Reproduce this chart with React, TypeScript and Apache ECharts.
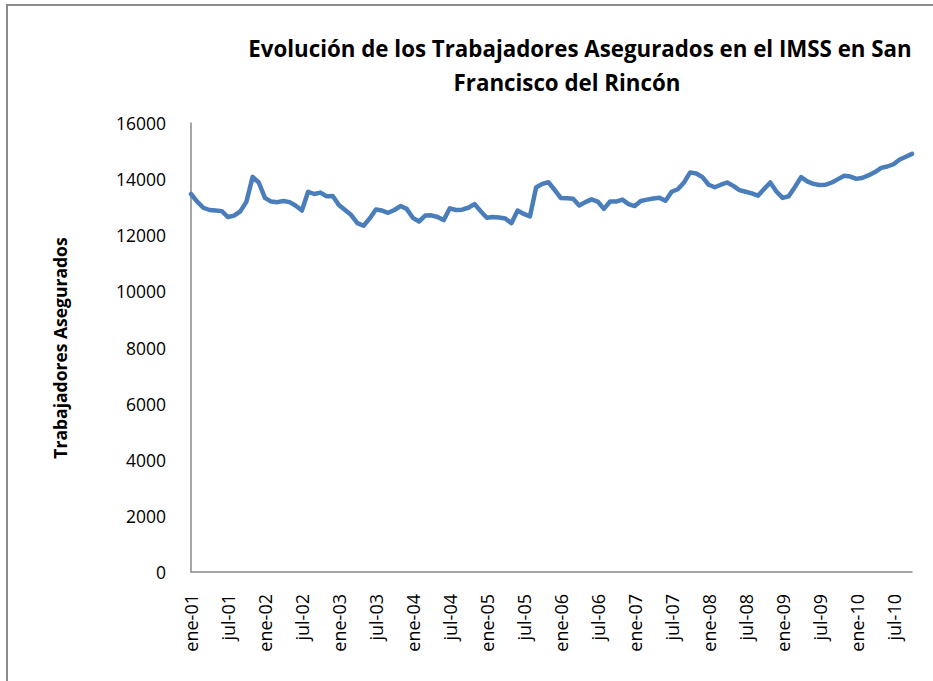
import React, { useEffect, useRef } from "react";
import * as echarts from "echarts";

const monthNames = ["ene", "feb", "mar", "abr", "may", "jun", "jul", "ago", "sep", "oct", "nov", "dic"];
const years = ["01", "02", "03", "04", "05", "06", "07", "08", "09", "10"];

const y2001 = [13470, 13200, 12980, 12900, 12880, 12860, 12650, 12700, 12850, 13200, 14080, 13880];
const y2002 = [13330, 13200, 13180, 13220, 13180, 13050, 12880, 13550, 13470, 13520, 13390, 13400];
const y2003 = [13080, 12900, 12720, 12430, 12340, 12600, 12920, 12880, 12800, 12900, 13040, 12940];
const y2004 = [12620, 12490, 12700, 12710, 12650, 12540, 12960, 12900, 12910, 12980, 13110, 12860];
const y2005 = [12620, 12650, 12630, 12600, 12430, 12880, 12760, 12670, 13700, 13830, 13890, 13620];
const y2006 = [13330, 13320, 13300, 13060, 13180, 13280, 13200, 12940, 13200, 13200, 13270, 13110];
const y2007 = [13040, 13220, 13270, 13310, 13340, 13230, 13550, 13640, 13880, 14240, 14200, 14070];
const y2008 = [13800, 13710, 13800, 13880, 13760, 13610, 13550, 13490, 13410, 13650, 13880, 13560];
const y2009 = [13330, 13390, 13720, 14070, 13920, 13830, 13790, 13800, 13880, 14000, 14120, 14090];
const y2010 = [14010, 14050, 14140, 14250, 14400, 14450, 14530, 14700, 14800, 14900];

const values = [...y2001, ...y2002, ...y2003, ...y2004, ...y2005, ...y2006, ...y2007, ...y2008, ...y2009, ...y2010];

const categories: string[] = [];
years.forEach((yy) => monthNames.forEach((m) => categories.push(m + "-" + yy)));
const cats = categories.slice(0, values.length);

const titleLine1 = "Evolución de los Trabajadores Asegurados en el IMSS en San";
const titleLine2 = "Francisco del Rincón";
const yAxisName = "Trabajadores Asegurados";

const FONT = "'Open Sans', 'Noto Sans', sans-serif";

export default function App() {
  const ref = useRef<HTMLDivElement>(null);
  useEffect(() => {
    if (!ref.current) return;
    const chart = echarts.init(ref.current, null, { renderer: "svg" });
    chart.setOption({
      animation: false,
      backgroundColor: "#ffffff",
      grid: { left: 191, right: 21, top: 123, bottom: 109, containLabel: false },
      xAxis: {
        type: "category",
        data: cats,
        boundaryGap: false,
        axisLine: { show: true, lineStyle: { color: "#8a8a8a", width: 1.5 } },
        axisTick: { show: false },
        axisLabel: {
          interval: 5,
          rotate: 90,
          margin: 22,
          color: "#000",
          fontFamily: FONT,
          fontSize: 18,
        },
        splitLine: { show: false },
      },
      yAxis: {
        type: "value",
        min: 0,
        max: 16000,
        interval: 2000,
        axisLine: { show: true, lineStyle: { color: "#8a8a8a", width: 1.5 } },
        axisTick: { show: false },
        splitLine: { show: false },
        axisLabel: {
          color: "#000",
          fontFamily: FONT,
          fontSize: 17.5,
          margin: 25,
          formatter: (v: number) => String(v),
        },
      },
      series: [
        {
          type: "line",
          data: values,
          showSymbol: false,
          symbol: "none",
          lineStyle: { color: "#4a7ebb", width: 4.5, join: "round", cap: "round" },
        },
      ],
      graphic: [
        {
          type: "rect",
          shape: { x: 7, y: 5, width: 1000, height: 1000 },
          style: { fill: "none", stroke: "#8a8a8a", lineWidth: 2 },
          silent: true,
        },
        {
          type: "text",
          x: 580,
          y: 48,
          style: {
            text: titleLine1,
            fontFamily: FONT,
            fontWeight: "bold",
            fontSize: 22.3,
            fill: "#000",
            textAlign: "center",
            textVerticalAlign: "middle",
          },
        },
        {
          type: "text",
          x: 567,
          y: 82,
          style: {
            text: titleLine2,
            fontFamily: FONT,
            fontWeight: "bold",
            fontSize: 22.3,
            fill: "#000",
            textAlign: "center",
            textVerticalAlign: "middle",
          },
        },
        {
          type: "text",
          x: 60,
          y: 348,
          rotation: Math.PI / 2,
          style: {
            text: yAxisName,
            fontFamily: FONT,
            fontWeight: "bold",
            fontSize: 17.5,
            fill: "#000",
            textAlign: "center",
            textVerticalAlign: "middle",
          },
        },
      ],
    });
    return () => chart.dispose();
  }, []);
  return (
    <div
      ref={ref}
      style={{ position: "fixed", left: 0, top: 0, width: 933, height: 681, background: "#fff" }}
    />
  );
}
